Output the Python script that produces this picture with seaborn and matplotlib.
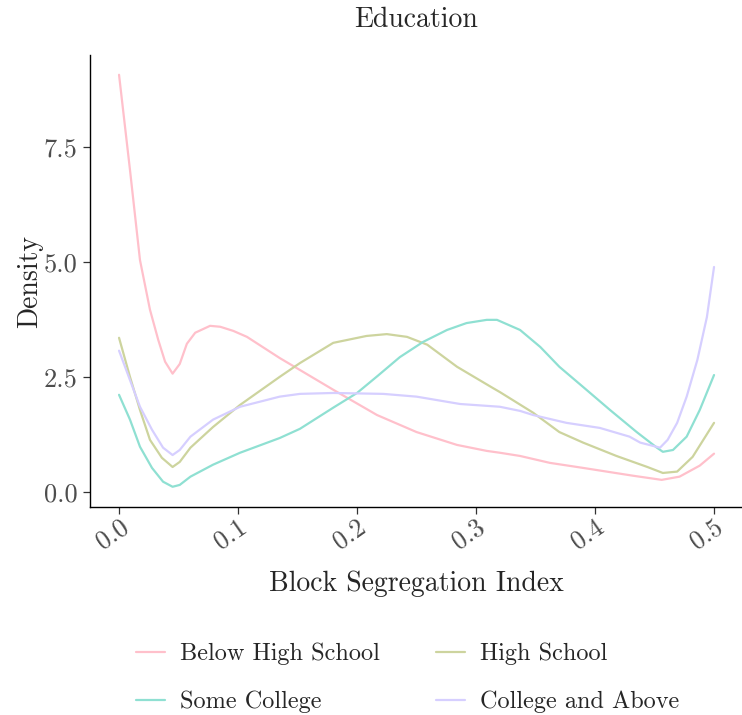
import matplotlib
matplotlib.use("Agg")
import matplotlib.pyplot as plt
import seaborn as sns
import pandas as pd

# Density estimates of the block segregation index by education group
below_hs_x = [0.0, 0.0092, 0.0176, 0.026, 0.033, 0.0387, 0.045, 0.051, 0.057, 0.064,
              0.0765, 0.085, 0.096, 0.1075, 0.135, 0.152, 0.18, 0.2168, 0.25, 0.284,
              0.309, 0.32, 0.337, 0.362, 0.39, 0.432, 0.456, 0.471, 0.488, 0.5]
below_hs_y = [9.07, 7.0, 5.04, 3.96, 3.30, 2.83, 2.57, 2.78, 3.22, 3.46,
              3.61, 3.59, 3.50, 3.37, 2.91, 2.65, 2.22, 1.67, 1.30, 1.02,
              0.89, 0.85, 0.78, 0.63, 0.52, 0.35, 0.26, 0.33, 0.57, 0.83]

high_school_x = [0.0, 0.0092, 0.0176, 0.026, 0.036, 0.045, 0.051, 0.06, 0.079, 0.1017,
                 0.135, 0.152, 0.18, 0.208, 0.225, 0.242, 0.259, 0.284, 0.314, 0.32,
                 0.348, 0.37, 0.39, 0.418, 0.444, 0.457, 0.469, 0.482, 0.5]
high_school_y = [3.35, 2.5, 1.78, 1.13, 0.74, 0.54, 0.65, 0.96, 1.41, 1.89,
                 2.5, 2.80, 3.24, 3.39, 3.43, 3.37, 3.2, 2.72, 2.26, 2.17,
                 1.72, 1.30, 1.07, 0.78, 0.54, 0.41, 0.44, 0.76, 1.50]

some_college_x = [0.0, 0.0092, 0.0176, 0.0277, 0.037, 0.045, 0.051, 0.06, 0.079, 0.1017,
                  0.135, 0.152, 0.18, 0.2, 0.2168, 0.236, 0.2555, 0.2756, 0.292, 0.309,
                  0.3176, 0.337, 0.354, 0.37, 0.39, 0.4126, 0.435, 0.452, 0.457, 0.4655,
                  0.477, 0.488, 0.5]
some_college_y = [2.11, 1.57, 0.98, 0.52, 0.22, 0.11, 0.15, 0.33, 0.59, 0.85,
                  1.17, 1.37, 1.83, 2.15, 2.51, 2.93, 3.26, 3.52, 3.67, 3.74,
                  3.74, 3.52, 3.15, 2.72, 2.28, 1.78, 1.30, 0.96, 0.87, 0.91,
                  1.20, 1.78, 2.54]

college_x = [0.0, 0.0092, 0.0176, 0.0277, 0.037, 0.045, 0.051, 0.06, 0.079, 0.1017,
             0.135, 0.152, 0.18, 0.222, 0.25, 0.2866, 0.32, 0.337, 0.348, 0.376,
             0.404, 0.429, 0.438, 0.4546, 0.461, 0.469, 0.477, 0.486, 0.494, 0.5]
college_y = [3.07, 2.43, 1.85, 1.35, 0.96, 0.80, 0.91, 1.2, 1.57, 1.85,
             2.07, 2.13, 2.15, 2.13, 2.07, 1.91, 1.85, 1.76, 1.67, 1.50,
             1.39, 1.20, 1.07, 0.96, 1.13, 1.50, 2.07, 2.87, 3.80, 4.89]

groups = ["Below High School", "High School", "Some College", "College and Above"]
colors = ["#FFC0CB", "#CDD49E", "#8FE0D2", "#D6CFFF"]
x_ticks = [0.0, 0.1, 0.2, 0.3, 0.4, 0.5]
y_ticks = [0.0, 2.5, 5.0, 7.5]

frames = []
for name, xs, ys in [("Below High School", below_hs_x, below_hs_y),
                     ("High School", high_school_x, high_school_y),
                     ("Some College", some_college_x, some_college_y),
                     ("College and Above", college_x, college_y)]:
    frames.append(pd.DataFrame({"x": xs, "density": ys, "group": name}))
df = pd.concat(frames, ignore_index=True)

sns.set_style("white")
plt.rcParams["font.family"] = ["cmr10", "DejaVu Serif"]
plt.rcParams["axes.formatter.use_mathtext"] = True
plt.rcParams["mathtext.fontset"] = "cm"

fig = plt.figure(figsize=(7.42, 7.15), dpi=100)
ax = fig.add_axes([90 / 742, 1 - 507 / 715, 652 / 742, (507 - 55) / 715])

sns.lineplot(data=df, x="x", y="density", hue="group", hue_order=groups,
             palette=dict(zip(groups, colors)), estimator=None, sort=True,
             linewidth=1.6, ax=ax, legend=False)

ax.set_xlim(-0.0244, 0.5235)
ax.set_ylim(-0.33, 9.5)
ax.set_xticks(x_ticks)
ax.set_xticklabels([f"{t:.1f}" for t in x_ticks])
ax.set_yticks(y_ticks)
ax.set_yticklabels([f"{t:.1f}" for t in y_ticks])

for side in ["top", "right"]:
    ax.spines[side].set_visible(False)
for side in ["left", "bottom"]:
    ax.spines[side].set_color("black")
    ax.spines[side].set_linewidth(1.0)

ax.tick_params(axis="both", which="major", bottom=True, left=True,
               direction="out", length=5, width=0.9,
               color="#333333", labelcolor="#4D4D4D", labelsize=19)
ax.tick_params(axis="x", pad=1)
ax.tick_params(axis="y", pad=4)
for lab in ax.get_xticklabels():
    lab.set_rotation(35)
    lab.set_ha("right")
    lab.set_va("top")
    lab.set_rotation_mode("anchor")

ax.set_xlabel("Block Segregation Index", fontsize=20, labelpad=12)
ax.set_ylabel("Density", fontsize=20, labelpad=0)
ax.set_title("Education", fontsize=20, pad=20)

handles = [plt.Line2D([], [], color=c, linewidth=1.6) for c in colors]
order = [0, 2, 1, 3]
fig.legend([handles[i] for i in order], [groups[i] for i in order],
           loc="center", bbox_to_anchor=(0.549, 0.052), ncol=2, frameon=False,
           fontsize=17.5, handlelength=1.2, columnspacing=2.3, labelspacing=1.05,
           handletextpad=0.62)

fig.savefig("out.png", dpi=100)
